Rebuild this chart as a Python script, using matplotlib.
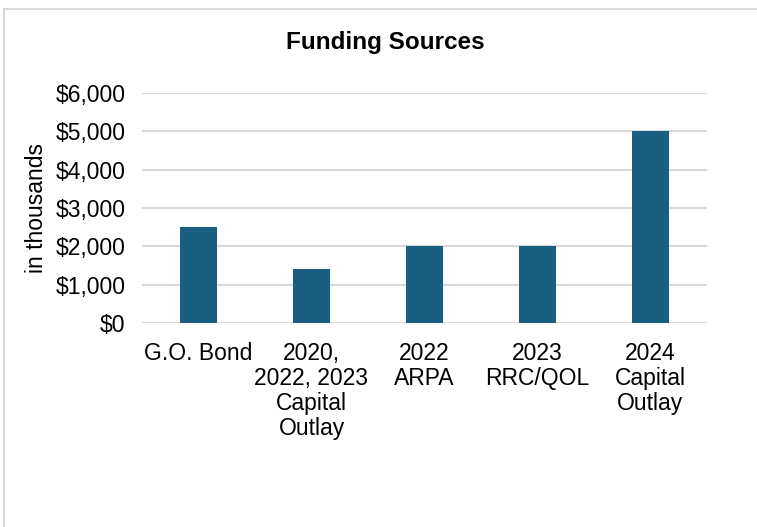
import matplotlib.pyplot as plt
from matplotlib.patches import Rectangle
from matplotlib.ticker import FuncFormatter

# Data
categories = ["G.O. Bond", "2020,\n2022, 2023\nCapital\nOutlay", "2022\nARPA",
              "2023\nRRC/QOL", "2024\nCapital\nOutlay"]
amounts = [2500, 1400, 2000, 2000, 5000]  # in thousands
yticks = [0, 1000, 2000, 3000, 4000, 5000, 6000]

plt.rcParams["font.family"] = ["Liberation Sans", "DejaVu Sans"]

fig = plt.figure(figsize=(7.57, 5.27), dpi=100)
ax = fig.add_axes([142 / 757, 1 - 323 / 527, 565 / 757, 230 / 527])

# light gray outer border of the chart area
fig.patches.append(Rectangle((4 / 757, -0.1), 1.2, 1 - 9 / 527 + 0.1,
                             transform=fig.transFigure, fill=False,
                             edgecolor="#d9d9d9", linewidth=1.5))

x = range(len(categories))
ax.bar(x, amounts, width=0.32, color="#1a5f80", zorder=3)

ax.set_xlim(-0.5, len(categories) - 0.5)
ax.set_ylim(0, 6000)
ax.set_yticks(yticks)
ax.yaxis.set_major_formatter(FuncFormatter(lambda v, p: f"${v:,.0f}"))
ax.set_xticks(list(x))
ax.set_xticklabels(categories, fontsize=16.5, linespacing=1.1, va="top")
ax.tick_params(axis="y", labelsize=16.5, length=0, pad=12)
ax.tick_params(axis="x", length=0, pad=14)
ax.grid(axis="y", color="#d9d9d9", linewidth=1.5, zorder=0)
for s in ax.spines.values():
    s.set_visible(False)

ax.set_ylabel("in thousands", fontsize=16.5)
ax.yaxis.set_label_coords(-94 / 565, 0.5)
fig.text(385 / 757, 1 - 42 / 527, "Funding Sources", ha="center", va="center",
         fontsize=17.5, fontweight="bold")

fig.savefig("out.png", dpi=100)
